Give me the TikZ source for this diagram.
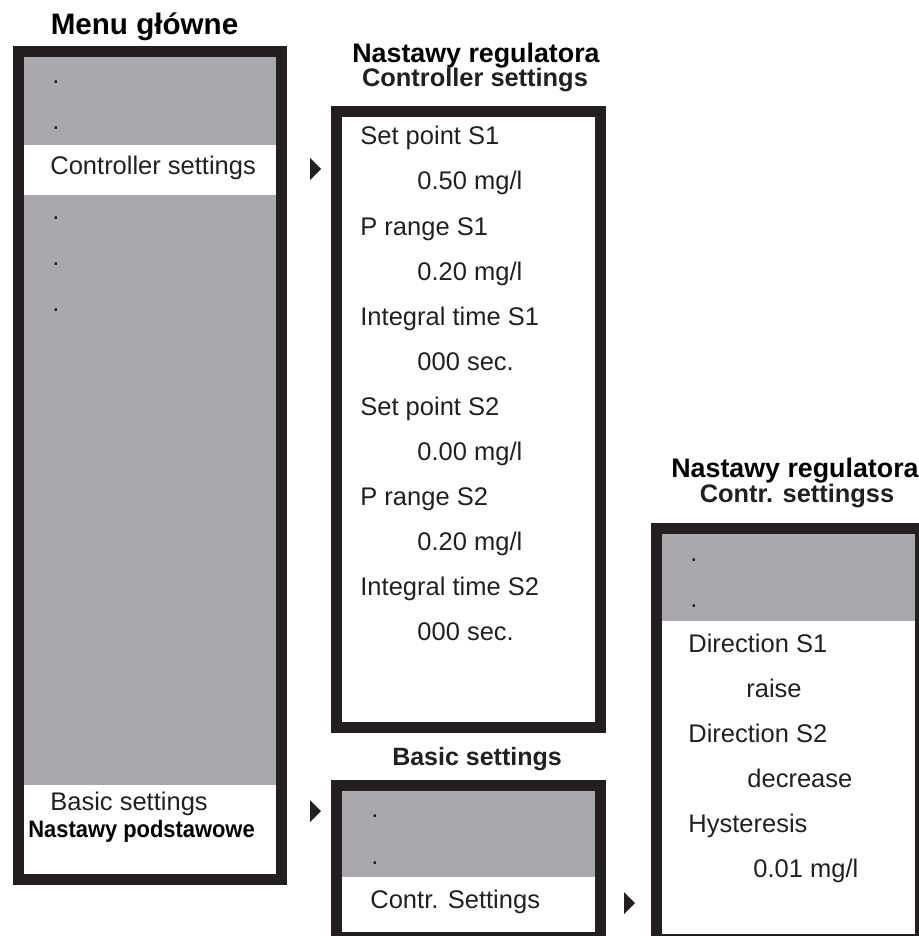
\documentclass[tikz,border=0pt]{standalone}
\usepackage{fontspec}
\setmainfont{Liberation Sans}
\usepackage{graphicx}
\definecolor{framecol}{RGB}{35,31,32}
\definecolor{bandgray}{RGB}{167,169,172}
\newcommand{\itemfont}{\fontsize{12.75pt}{15pt}\selectfont}
\tikzset{
  frame/.style   = {draw=framecol, line width=5.5pt},
  band/.style    = {fill=bandgray},
  item/.style    = {anchor=base west, inner sep=0pt, text=framecol, font=\itemfont},
  head/.style    = {anchor=base, inner sep=0pt, font=\bfseries\fontsize{13.4pt}{15pt}\selectfont},
  subhead/.style = {head, text=framecol, font=\bfseries\fontsize{12.7pt}{15pt}\selectfont},
}
\newcommand{\pointer}[2]{%
  \fill[framecol] (#1,#2-11) -- (#1+11,#2) -- (#1,#2+11) -- cycle;
}

\begin{document}
\begin{tikzpicture}[x=0.5pt, y=-0.5pt]
  \useasboundingbox (0,0) rectangle (919,936);
  \clip (0,0) rectangle (919,936);
  % main menu
  \fill[band] (24,57) rectangle (276,145);
  \fill[band] (24,195) rectangle (276,785);
  \draw[frame] (18,52) rectangle (281.5,879);
  \node[head, font=\bfseries\fontsize{14.8pt}{17pt}\selectfont] (menu-head) at (144.5,35) {Menu główne};
  \foreach \yy [count=\i] in {84,130,220,265,311}
    \node[item] (menu-dot\i) at (52,\yy) {.};
  \node[item] (menu-ctrl) at (50,175) {Controller settings};
  \node[item] (menu-basic) at (50,810) {Basic settings};
  \node[item, text=black, font=\bfseries\fontsize{11.9pt}{14pt}\selectfont] (menu-basic-pl) at (28,837) {\scalebox{0.92}[1]{Nastawy podstawowe}};
  \pointer{310}{169}
  \pointer{310}{811}
  % controller settings
  \draw[frame] (336.5,111.5) rectangle (600,727);
  \node[head] (ctrl-head) at (476,63) {Nastawy regulatora};
  \node[subhead] (ctrl-sub) at (475,87) {Controller settings};
  \foreach \txt [count=\i] in {Set point S1, P range S1, Integral time S1, Set point S2, P range S2, Integral time S2}
    \node[item] (ctrl-name\i) at (360,55+90*\i) {\txt};
  \foreach \txt [count=\i] in {0.50 mg/l, 0.20 mg/l, 000 sec., 0.00 mg/l, 0.20 mg/l, 000 sec.}
    \node[item] (ctrl-val\i) at (417,100+90*\i) {\txt};
  % basic settings
  \fill[band] (342,791) rectangle (595,877);
  \draw[frame] (336.5,785.5) rectangle (600.5,937.5);
  \node[head, font=\bfseries\fontsize{12.5pt}{15pt}\selectfont, text=framecol] (basic-head) at (477,765) {Basic settings};
  \node[item] (basic-dot1) at (371,817) {.};
  \node[item] (basic-dot2) at (371,864) {.};
  \node[item] (basic-contr) at (370,908) {Contr. Settings};
  \pointer{624}{903}
  % contr. settings
  \fill[band] (662,534) rectangle (915,621);
  \draw[frame] (656.5,528.5) rectangle (920.5,939.5);
  \node[head] (contr-head) at (795,477) {Nastawy regulatora};
  \node[subhead] (contr-sub) at (797,502) {Contr. settingss};
  \node[item] (contr-dot1) at (690,561) {.};
  \node[item] (contr-dot2) at (690,607) {.};
  \node[item] (contr-dir1) at (688,652) {Direction S1};
  \node[item] (contr-raise) at (746,697) {raise};
  \node[item] (contr-dir2) at (688,742) {Direction S2};
  \node[item] (contr-decr) at (747,787) {decrease};
  \node[item] (contr-hyst) at (688,832) {Hysteresis};
  \node[item] (contr-hval) at (753,877) {0.01 mg/l};
\end{tikzpicture}
\end{document}
